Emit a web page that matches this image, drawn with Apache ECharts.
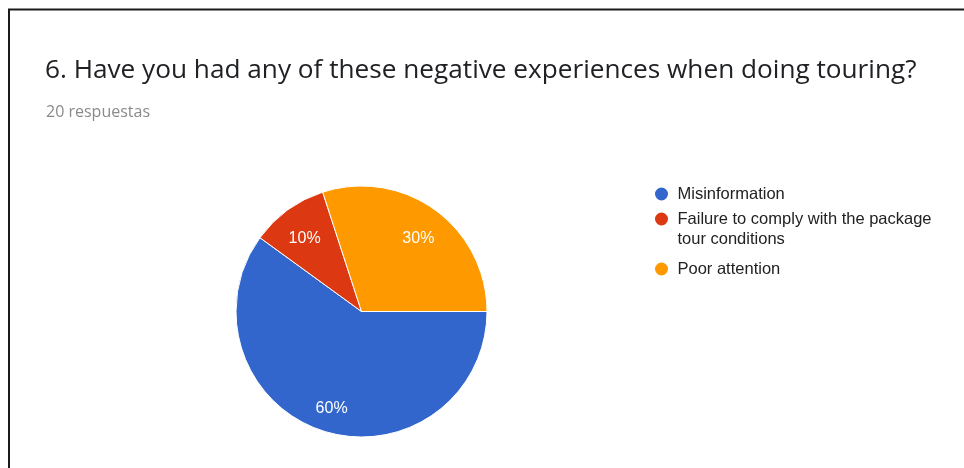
<!DOCTYPE html>
<html>
<head>
<meta charset="utf-8">
<script src="https://cdn.jsdelivr.net/npm/echarts@6/dist/echarts.min.js"></script>
<style>
html,body{margin:0;padding:0;background:#fff;}
#main{width:964px;height:468px;}
</style>
</head>
<body>
<div id="main"></div>
<script>
const titleText = '6. Have you had any of these negative experiences when doing touring?';
const subtitleText = '20 respuestas';
const categories = ['Misinformation', 'Failure to comply with the package tour conditions', 'Poor attention'];
const legendLabels = ['Misinformation', '\nFailure to comply with the package\ntour conditions', 'Poor attention'];
const values = [12, 2, 6];
const colors = ['#3366cc', '#dc3912', '#ff9900'];

const chart = echarts.init(document.getElementById('main'));
const pieData = categories.map((c, i) => ({ name: c, value: values[i], itemStyle: { color: colors[i] } }));
const labelData = categories.map((c, i) => ({ name: c, value: values[i] }));

const legendTops = [184, 189, 259];
const legends = categories.map((c, i) => ({
  data: [c],
  orient: 'vertical',
  left: 653,
  top: legendTops[i],
  padding: 0,
  icon: 'circle',
  itemWidth: 22,
  itemHeight: 15,
  selectedMode: false,
  formatter: () => legendLabels[i],
  textStyle: {
    fontFamily: 'Liberation Sans, Arial, sans-serif',
    fontSize: 16.5,
    color: '#222222',
    lineHeight: 20
  }
}));

chart.setOption({
  animation: false,
  backgroundColor: '#ffffff',
  title: [
    {
      text: titleText, left: 45, top: 58, padding: 0,
      textStyle: { fontFamily: 'Open Sans, sans-serif', fontSize: 26.2, fontWeight: 'normal', color: '#202124' }
    },
    {
      text: subtitleText, left: 46, top: 104, padding: 0,
      textStyle: { fontFamily: 'Open Sans, sans-serif', fontSize: 16, fontWeight: 'normal', color: '#8a8a8a' }
    }
  ],
  legend: legends,
  graphic: [
    { type: 'rect', silent: true, z: 100,
      shape: { x: 9, y: 9.5, width: 1200, height: 1000 },
      style: { fill: null, stroke: '#1a1a1a', lineWidth: 2 } }
  ],
  series: [
    {
      type: 'pie',
      center: [361.5, 311.5],
      radius: [0, 125.5],
      startAngle: 0,
      clockwise: true,
      silent: true,
      label: { show: false },
      labelLine: { show: false },
      itemStyle: { borderColor: '#ffffff', borderWidth: 1 },
      data: pieData
    },
    {
      type: 'pie',
      center: [361.5, 311.5],
      radius: [62, 125.5],
      startAngle: 0,
      clockwise: true,
      silent: true,
      itemStyle: { color: 'rgba(0,0,0,0)', borderWidth: 0 },
      label: {
        show: true,
        position: 'inside',
        offset: [0, 5],
        color: '#ffffff',
        fontFamily: 'Liberation Sans, Arial, sans-serif',
        fontSize: 16,
        formatter: p => Math.round(p.percent) + '%'
      },
      labelLine: { show: false },
      data: labelData
    }
  ]
});
</script>
</body>
</html>
